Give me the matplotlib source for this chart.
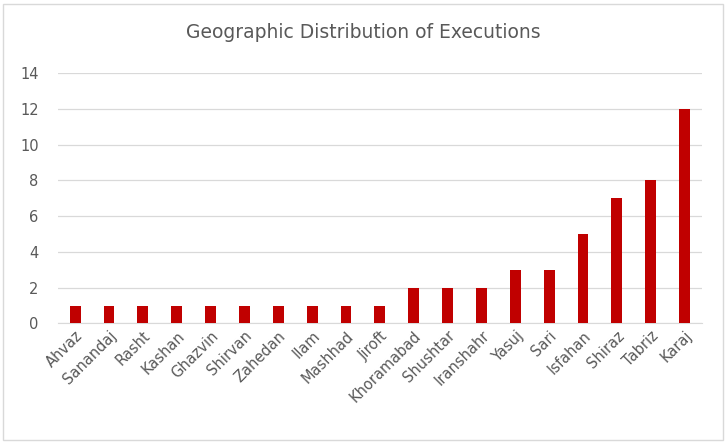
import matplotlib.pyplot as plt
from matplotlib.patches import Rectangle

cities = ["Ahvaz", "Sanandaj", "Rasht", "Kashan", "Ghazvin", "Shirvan", "Zahedan",
          "Ilam", "Mashhad", "Jiroft", "Khoramabad", "Shushtar", "Iranshahr",
          "Yasuj", "Sari", "Isfahan", "Shiraz", "Tabriz", "Karaj"]
counts = [1, 1, 1, 1, 1, 1, 1, 1, 1, 1, 2, 2, 2, 3, 3, 5, 7, 8, 12]

fig = plt.figure(figsize=(7.27, 4.43), dpi=100)
ax = fig.add_axes([0.08, 0.27, 0.885, 0.565])
fig.patches.append(Rectangle((0.004, 0.007), 0.99, 0.985, transform=fig.transFigure,
                             fill=False, edgecolor="#d9d9d9", linewidth=1))

x = range(len(cities))
ax.bar(x, counts, width=0.32, color="#C00000", zorder=3)
ax.set_ylim(0, 14)
ax.set_yticks(range(0, 15, 2))
ax.set_xlim(-0.5, len(cities) - 0.5)
ax.set_xticks(list(x))
ax.set_xticklabels(cities, rotation=45, ha="right", rotation_mode="anchor")
ax.grid(axis="y", color="#d9d9d9", linewidth=0.9, zorder=0)
for s in ["top", "right", "left"]:
    ax.spines[s].set_visible(False)
ax.spines["bottom"].set_color("#d9d9d9")
ax.tick_params(axis="both", length=0, colors="#595959", labelsize=10.5)
ax.tick_params(axis="y", pad=14)
fig.text(0.5, 0.915, "Geographic Distribution of Executions", ha="center",
         fontsize=13.5, color="#595959")

fig.savefig("out.png", dpi=100)
